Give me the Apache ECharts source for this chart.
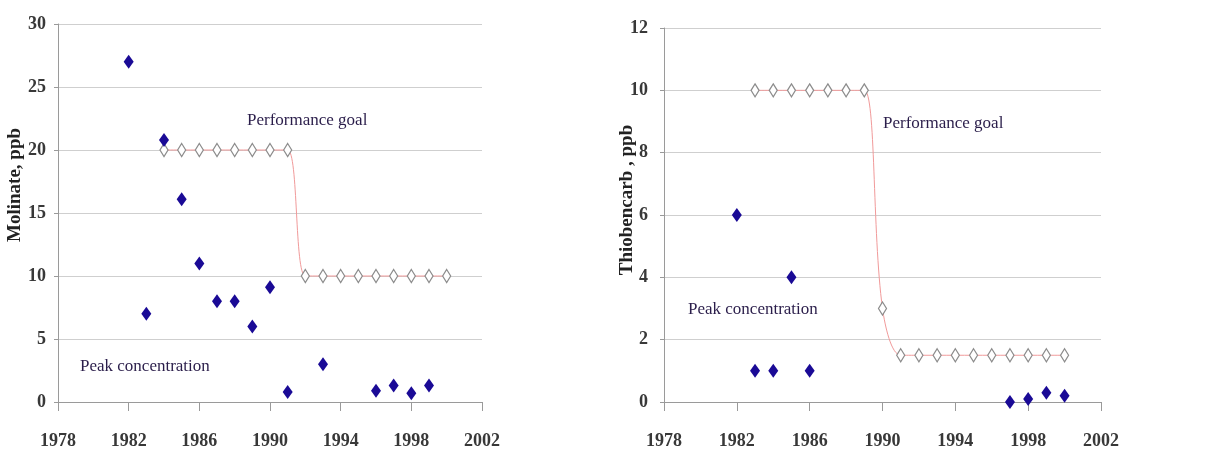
<!DOCTYPE html>
<html>
<head>
<meta charset="utf-8">
<script src="https://cdn.jsdelivr.net/npm/echarts@6/dist/echarts.min.js"></script>
<style>
html,body{margin:0;padding:0;background:#fff;}
#chart{width:1212px;height:457px;}
</style>
</head>
<body>
<div id="chart"></div>
<script>
// ---- Data ----
const xTicks = [1978, 1982, 1986, 1990, 1994, 1998, 2002];

const molinatePeakYears = [1982, 1983, 1984, 1985, 1986, 1987, 1988, 1989, 1990, 1991, 1993, 1996, 1997, 1998, 1999];
const molinatePeakValues = [27, 7, 20.8, 16.1, 11, 8, 8, 6, 9.1, 0.8, 3, 0.9, 1.3, 0.7, 1.3];

const molinateGoalYears = [1984, 1985, 1986, 1987, 1988, 1989, 1990, 1991, 1992, 1993, 1994, 1995, 1996, 1997, 1998, 1999, 2000];
const molinateGoalValues = [20, 20, 20, 20, 20, 20, 20, 20, 10, 10, 10, 10, 10, 10, 10, 10, 10];

const thioPeakYears = [1982, 1983, 1984, 1985, 1986, 1997, 1998, 1999, 2000];
const thioPeakValues = [6, 1, 1, 4, 1, 0, 0.1, 0.3, 0.2];

const thioGoalYears = [1983, 1984, 1985, 1986, 1987, 1988, 1989, 1990, 1991, 1992, 1993, 1994, 1995, 1996, 1997, 1998, 1999, 2000];
const thioGoalValues = [10, 10, 10, 10, 10, 10, 10, 3, 1.5, 1.5, 1.5, 1.5, 1.5, 1.5, 1.5, 1.5, 1.5, 1.5];

const molinateYTicks = [0, 5, 10, 15, 20, 25, 30];
const thioYTicks = [0, 2, 4, 6, 8, 10, 12];

const labels = {
  leftY: 'Molinate, ppb',
  rightY: 'Thiobencarb , ppb',
  goal: 'Performance goal',
  peak: 'Peak concentration'
};

// ---- Helpers ----
const zip = (xs, ys) => xs.map((x, i) => [x, ys[i]]);
const FONT = 'Liberation Serif';
const textColor = '#2a1d4a';

function xAxisCfg(gridIndex) {
  return {
    type: 'value', gridIndex,
    min: xTicks[0], max: xTicks[xTicks.length - 1], interval: 4,
    axisLine: { show: true, lineStyle: { color: '#9a9a9a', width: 1 } },
    axisTick: { show: true, length: 9, lineStyle: { color: '#9a9a9a' } },
    splitLine: { show: false },
    axisLabel: { margin: 30, fontFamily: FONT, fontSize: 18, fontWeight: 'bold', color: '#383838',
      formatter: v => String(v) }
  };
}
function yAxisCfg(gridIndex, ticks, margin) {
  return {
    type: 'value', gridIndex,
    min: ticks[0], max: ticks[ticks.length - 1], interval: ticks[1] - ticks[0],
    axisLine: { show: true, lineStyle: { color: '#9a9a9a', width: 1 } },
    axisTick: { show: true, length: 4, lineStyle: { color: '#9a9a9a' } },
    splitLine: { show: true, lineStyle: { color: '#cfcfcf', width: 1 } },
    axisLabel: { margin: margin, fontFamily: FONT, fontSize: 18, fontWeight: 'bold', color: '#383838' }
  };
}
function goalSeries(idx, data) {
  return {
    type: 'line', xAxisIndex: idx, yAxisIndex: idx,
    data, smooth: 0.35, showAllSymbol: true,
    symbol: 'diamond', symbolSize: [8, 13],
    lineStyle: { color: '#f19a9a', width: 1 },
    itemStyle: { color: '#ffffff', borderColor: '#8c8c8c', borderWidth: 1.3 },
    z: 3
  };
}
function peakSeries(idx, data) {
  return {
    type: 'scatter', xAxisIndex: idx, yAxisIndex: idx,
    data, symbol: 'diamond', symbolSize: [10, 14],
    itemStyle: { color: '#1a0a96', opacity: 1 },
    z: 4
  };
}
function rotLabel(x, y, text) {
  return { type: 'text', x, y, rotation: Math.PI / 2,
    style: { text, fontFamily: FONT, fontSize: 19, fontWeight: 'bold', fill: '#222',
      align: 'center', verticalAlign: 'middle' } };
}
function note(left, top, text) {
  return { text, left, top, padding: 0,
    textStyle: { fontFamily: FONT, fontSize: 17, fontWeight: 'normal', color: textColor } };
}

const chart = echarts.init(document.getElementById('chart'), null, { renderer: 'canvas' });
chart.setOption({
  backgroundColor: '#ffffff',
  animation: false,
  title: [
    note(247, 112, labels.goal),
    note(80, 358, labels.peak),
    note(883, 115, labels.goal),
    note(688, 301, labels.peak)
  ],
  grid: [
    { left: 58, top: 24, width: 424, height: 378 },
    { left: 664, top: 28, width: 437, height: 374 }
  ],
  xAxis: [xAxisCfg(0), xAxisCfg(1)],
  yAxis: [yAxisCfg(0, molinateYTicks, 12), yAxisCfg(1, thioYTicks, 16)],
  series: [
    goalSeries(0, zip(molinateGoalYears, molinateGoalValues)),
    peakSeries(0, zip(molinatePeakYears, molinatePeakValues)),
    goalSeries(1, zip(thioGoalYears, thioGoalValues)),
    peakSeries(1, zip(thioPeakYears, thioPeakValues))
  ],
  graphic: [
    rotLabel(15, 185, labels.leftY),
    rotLabel(627, 200, labels.rightY)
  ]
});
</script>
</body>
</html>
